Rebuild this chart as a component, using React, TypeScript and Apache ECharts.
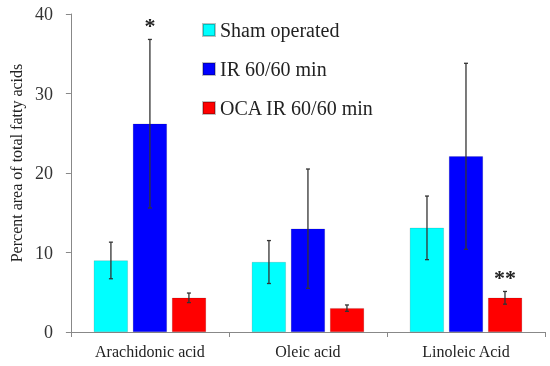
import React, { useEffect, useRef } from "react";
import * as echarts from "echarts";

const categories = ["Arachidonic acid", "Oleic acid", "Linoleic Acid"];
const seriesNames = ["Sham operated", "IR 60/60 min", "OCA IR 60/60 min"];
const colors = ["#00FFFF", "#0000FF", "#FF0000"];
const shamValues = [9.0, 8.8, 13.1];
const irValues = [26.2, 13.0, 22.1];
const ocaValues = [4.3, 3.0, 4.3];
const shamErr = [2.3, 2.7, 4.0];
const irErr = [10.6, 7.5, 11.7];
const ocaErr = [0.6, 0.4, 0.8];
const irSig = ["*", "", ""];
const ocaSig = ["", "", "**"];

const FONT = "Liberation Serif";

export default function App() {
  const ref = useRef<HTMLDivElement>(null);
  useEffect(() => {
    if (!ref.current) return;
    const chart = echarts.init(ref.current, null, { renderer: "svg" });
    const values = [shamValues, irValues, ocaValues];
    const errs = [shamErr, irErr, ocaErr];
    const sigs = [["", "", ""], irSig, ocaSig];
    const errData: any[] = [];
    for (let s = 0; s < 3; s++) {
      for (let c = 0; c < categories.length; c++) {
        errData.push([c, s, values[s][c] - errs[s][c], values[s][c] + errs[s][c], sigs[s][c]]);
      }
    }
    const offsetStep = 39;
    chart.setOption({
      animation: false,
      grid: { left: 62, right: 5, top: 14, bottom: 34 },
      legend: {
        orient: "vertical",
        left: 197,
        top: 15,
        itemWidth: 12,
        itemHeight: 12,
        itemGap: 19,
        icon: "rect",
        data: seriesNames,
        textStyle: { fontFamily: FONT, fontSize: 20, color: "#222" },
      },
      xAxis: {
        type: "category",
        data: categories,
        axisLine: { lineStyle: { color: "#888" } },
        axisTick: { show: true, length: 5, lineStyle: { color: "#888" } },
        axisLabel: { fontFamily: FONT, fontSize: 16, color: "#222", margin: 11 },
      },
      yAxis: {
        type: "value",
        min: 0,
        max: 40,
        interval: 10,
        name: "Percent area of total fatty acids",
        nameLocation: "middle",
        nameGap: 46,
        nameTextStyle: { fontFamily: FONT, fontSize: 16, color: "#222", padding: [0, 0, 0, 20] },
        axisLine: { show: true, lineStyle: { color: "#888" } },
        axisTick: { show: true, length: 5, lineStyle: { color: "#888" } },
        axisLabel: { fontFamily: FONT, fontSize: 18, color: "#333", margin: 18 },
        splitLine: { show: false },
      },
      series: [
        ...seriesNames.map((name, s) => ({
          name,
          type: "bar",
          data: values[s],
          barWidth: 34,
          barGap: "15%",
          itemStyle: { color: colors[s], borderColor: "rgba(0,0,0,0.25)", borderWidth: 0.5 },
        })),
        {
          type: "custom",
          z: 10,
          data: errData,
          renderItem: (params: any, api: any) => {
            const c = api.value(0);
            const s = api.value(1);
            const lo = api.coord([c, api.value(2)]);
            const hi = api.coord([c, api.value(3)]);
            const x = lo[0] + (s - 1) * offsetStep;
            const sig = errData[params.dataIndex][4];
            const st = { stroke: "#333", lineWidth: 1.3 };
            const children: any[] = [
              { type: "line", shape: { x1: x, y1: lo[1], x2: x, y2: hi[1] }, style: st },
              { type: "line", shape: { x1: x - 2, y1: lo[1], x2: x + 2, y2: lo[1] }, style: st },
              { type: "line", shape: { x1: x - 2, y1: hi[1], x2: x + 2, y2: hi[1] }, style: st },
            ];
            if (sig) {
              children.push({
                type: "text",
                style: {
                  text: sig,
                  x,
                  y: hi[1] - 3,
                  textAlign: "center",
                  textVerticalAlign: "bottom",
                  font: `bold 22px ${FONT}`,
                  fill: "#222",
                },
              });
            }
            return { type: "group", children };
          },
        },
      ],
    });
    return () => chart.dispose();
  }, []);
  return (
    <div
      ref={ref}
      style={{ position: "fixed", left: 0, top: 0, width: 550, height: 366 }}
    />
  );
}
